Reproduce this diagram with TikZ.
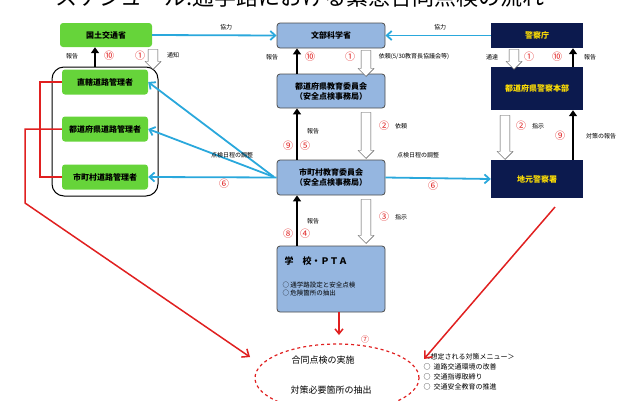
\documentclass[tikz,border=0pt]{standalone}
\usepackage{fontspec}
\setmainfont{Noto Sans CJK JP}
\usetikzlibrary{arrows.meta,shapes.geometric,shapes.arrows}
\definecolor{gbox}{HTML}{66D43A}
\definecolor{bbox}{HTML}{95B6E0}
\definecolor{nbox}{HTML}{0C1A4E}
\definecolor{cy}{HTML}{2AA8DC}
\definecolor{rd}{HTML}{E02020}
\tikzset{x=1pt,y=-1pt,
 box/.style={draw=black!70,rounded corners=3pt,align=center,font=\fontsize{8}{10}\selectfont\bfseries,inner sep=0pt},
 gb/.style={box,draw=none,fill=gbox},
 bb/.style={box,fill=bbox,line width=0.8pt},
 nb/.style={box,draw=none,rounded corners=0pt,fill=nbox,text=yellow!80!orange},
 lbl/.style={font=\fontsize{6}{6}\selectfont,inner sep=1pt},
 num/.style={text=rd,font=\fontsize{10}{10}\selectfont,inner sep=0pt},
 blue/.style={cy,line width=1.8pt,-{Straight Barb[length=5pt,width=9pt]}},
 up/.style={black,line width=2pt,-{Triangle[length=6pt,width=8pt]}},
 hollow/.style={single arrow,draw=black!70,fill=white,rotate=-90,minimum height=#1,minimum width=16pt,single arrow head extend=2pt,inner sep=3pt},
 red/.style={rd,line width=1.5pt},
}
\begin{document}
\begin{tikzpicture}
\useasboundingbox (0,0) rectangle (640,400);
\clip (0,0) rectangle (640,400);
\node[font=\fontsize{22}{22}\selectfont] (title) at (300,-3) {スケジュール:通学路における緊急合同点検の流れ};
\draw[black,line width=1pt,rounded corners=12pt] (52,67) rectangle (158,196);
\node[gb,minimum width=92pt,minimum height=24pt] (mlit) at (106,35) {国土交通省};
\node[bb,minimum width=108pt,minimum height=25pt] (mext) at (331,35.5) {文部科学省};
\node[nb,minimum width=92pt,minimum height=25pt] (npa) at (537,35.5) {警察庁};
\node[gb,minimum width=86pt,minimum height=25pt] (r1) at (105,82) {直轄道路管理者};
\node[gb,minimum width=86pt,minimum height=25pt] (r2) at (105,129) {都道府県道路管理者};
\node[gb,minimum width=86pt,minimum height=25pt] (r3) at (105,177) {市町村道路管理者};
\node[bb,minimum width=108pt,minimum height=34pt] (pb) at (331,91) {都道府県教育委員会\\（安全点検事務局）};
\node[bb,minimum width=108pt,minimum height=35pt] (cb) at (331,177.5) {市町村教育委員会\\（安全点検事務局）};
\node[nb,minimum width=92pt,minimum height=43pt] (pp) at (537,88.5) {都道府県警察本部};
\node[nb,minimum width=92pt,minimum height=38pt] (lp) at (537,179) {地元警察署};
\node[bb,minimum width=108pt,minimum height=66pt] (pta) at (331,279) {};
\node[anchor=west,font=\fontsize{9}{9}\selectfont\bfseries] (ptat) at (281,261) {学\quad 校・ＰＴＡ};
\node[anchor=west,font=\fontsize{6.5}{8}\selectfont,align=left] (ptal) at (279,289) {○ 通学路設定と安全点検\\○ 危険箇所の抽出};
\node[draw=rd,dashed,line width=1.2pt,ellipse,minimum width=164pt,minimum height=68pt] (ell) at (337,378) {};
\node[font=\fontsize{9}{9}\selectfont] (e1) at (323,360) {合同点検の実施};
\node[font=\fontsize{9}{9}\selectfont] (e2) at (331,390) {対策必要箇所の抽出};
\node[anchor=north west,font=\fontsize{7}{10}\selectfont,align=left] (menu) at (420,350) {＜想定される対策メニュー＞\\○\ \ 道路交通環境の改善\\○\ \ 交通指導取締り\\○\ \ 交通安全教育の推進};
% blue
\draw[blue] (mlit.east) -- (mext.west);
\node[lbl] (k1) at (226,27) {協力};
\draw[blue] (npa.west) -- (mext.east);
\node[lbl] (k2) at (440,27) {協力};
\coordinate (cbl) at (274,177);
\draw[blue] (cb.west) -- (r3.east);
\draw[blue] (cbl) -- (r1.east);
\draw[blue] (cbl) -- (r2.east);
\node[lbl] (k3) at (232,155) {点検日程の調整};
\node[num] (n6a) at (224,184) {⑥};
\draw[blue] (cb.east) -- (lp.west);
\node[lbl] (k4) at (418,155) {点検日程の調整};
\node[num] (n6b) at (433,186) {⑥};
% top row arrows
\draw[up] (95,67) -- (mlit.south -| 95,0);
\node[lbl] (l1) at (72,56) {報告}; \node[num] (n10a) at (109,56) {⑩};
\node[hollow=20pt] (h1) at (153,57) {};
\node[num] (n1a) at (140,56) {①}; \node[lbl] (l2) at (173,55) {通知};
\draw[up] (pb.north -| 297,0) -- (mext.south -| 297,0);
\node[lbl] (l3) at (272,57) {報告}; \node[num] (n10b) at (310,57) {⑩};
\node[hollow=26pt] (h2) at (366,61) {};
\node[num] (n1b) at (350,57) {①}; \node[lbl] (l4) at (414,57) {依頼(5/30教育長協議会等)};
\node[hollow=20pt] (h3) at (514,57) {};
\node[lbl] (l5) at (492,57) {通達}; \node[num] (n1c) at (529,57) {①};
\draw[up] (pp.north -| 573,0) -- (npa.south -| 573,0);
\node[num] (n10c) at (557,57) {⑩}; \node[lbl] (l6) at (590,57) {報告};
% middle
\node[hollow=46pt] (h4) at (366,133) {};
\node[num] (n2a) at (384,126) {②}; \node[lbl] (l7) at (401,126) {依頼};
\draw[up] (cb.north -| 297,0) -- (pb.south -| 297,0);
\node[lbl] (l8) at (313,131) {報告}; \node[num] (n9a) at (288,146) {⑨}; \node[num] (n5) at (305,146) {⑤};
\node[hollow=44pt] (h5) at (505,135) {};
\node[num] (n2b) at (521,126) {②}; \node[lbl] (l9) at (538,126) {指示};
\draw[up] (lp.north -| 573,0) -- (pp.south -| 573,0);
\node[num] (n9b) at (560,136) {⑨}; \node[lbl] (l10) at (601,136) {対策の報告};
% lower
\node[hollow=44pt] (h6) at (366,219) {};
\node[num] (n3) at (384,217) {③}; \node[lbl] (l11) at (401,217) {指示};
\draw[up] (pta.north -| 297,0) -- (cb.south -| 297,0);
\node[lbl] (l12) at (313,221) {報告}; \node[num] (n8) at (288,234) {⑧}; \node[num] (n4) at (305,234) {④};
% red
\draw[red] (r1.west) -- (40,82) -- (40,177) -- (r3.west);
\draw[red,-{Straight Barb[length=6pt,width=10pt]}] (r2.west) -- (25,129) -- (25,203) -- (250,357);
\draw[red,-{Straight Barb[length=5pt,width=8pt]}] (pta.south -| 339,0) -- (339,335);
\node[num,font=\fontsize{8}{8}\selectfont] (n7) at (365,339) {⑦};
\coordinate (lps) at (555,207);
\draw[red,-{Straight Barb[length=6pt,width=10pt]}] (lps) -- (424,359);
\end{tikzpicture}
\end{document}
